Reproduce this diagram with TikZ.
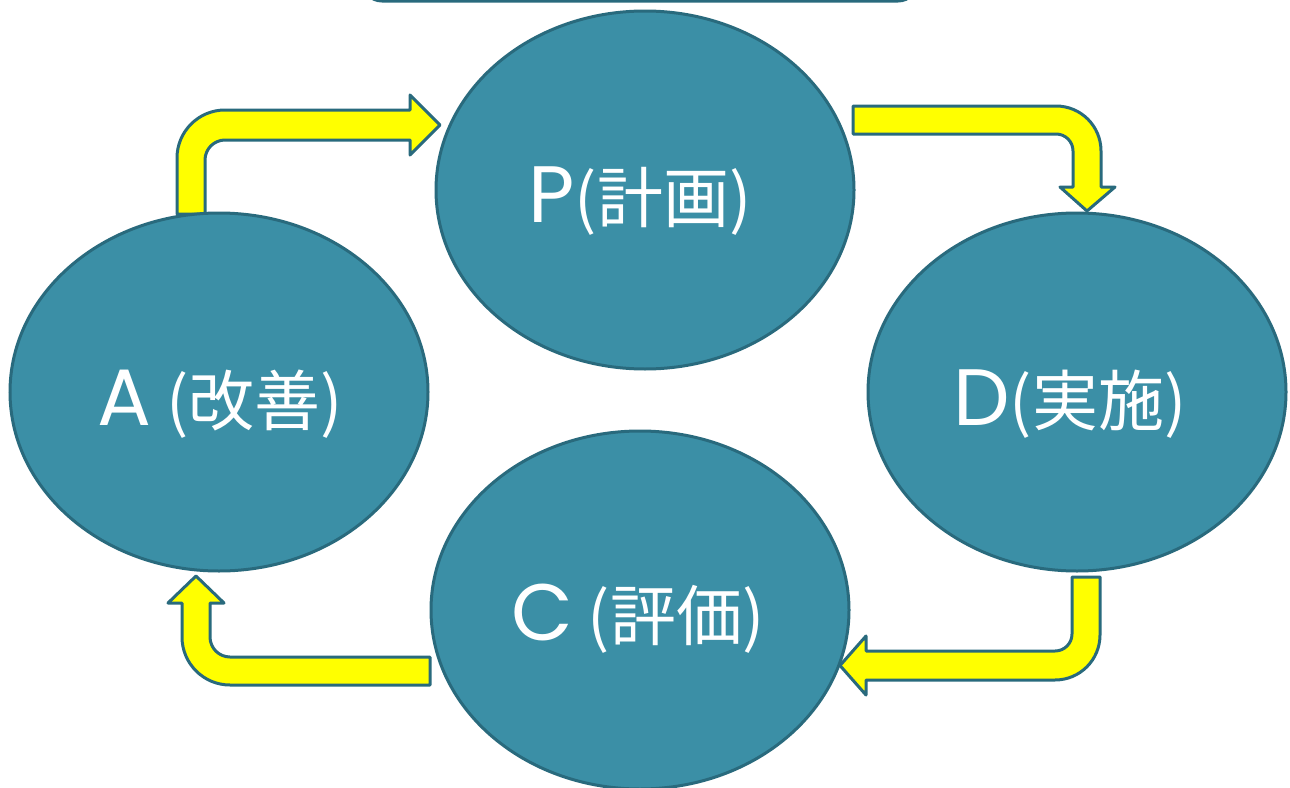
\documentclass[tikz,border=0pt]{standalone}
\usepackage{fontspec}
\newfontfamily\jpfont{Noto Sans CJK JP}
\newfontfamily\latfont{Poppins}
\usetikzlibrary{shapes.geometric}
\definecolor{tealfill}{RGB}{59,143,166}
\definecolor{tealline}{RGB}{41,106,125}
\definecolor{arrowyellow}{RGB}{255,255,0}
\newcommand{\bigL}[1]{{\latfont\fontsize{80pt}{84pt}\selectfont #1}}
\tikzset{
  phase/.style={ellipse, draw=tealline, line width=3pt, fill=tealfill, inner sep=0pt,
    minimum width=418pt, minimum height=358pt},
  phasetext/.style={text=white, inner sep=0pt, anchor=base,
    font=\jpfont\fontsize{66pt}{70pt}\selectfont},
  blockarrow/.style={draw=tealline, line width=3pt, fill=arrowyellow, line join=round},
}
\begin{document}
\begin{tikzpicture}[x=1pt,y=-1pt]
\useasboundingbox (0,0) rectangle (1290,787);
\fill[white] (0,0) rectangle (1290,787);
% partial box at top
\draw[draw=tealline, line width=3pt, fill=tealfill, rounded corners=20pt] (362,-60) rectangle (918,1);
% arrows
\draw[blockarrow] (177,214) -- (177,158) .. controls (177,131.5) and (198.5,110) .. (225,110)
  -- (410,110) -- (410,95) -- (440,125) -- (410,155) -- (410,140) -- (225,140)
  .. controls (214,140) and (205,149) .. (205,160) -- (205,214) -- cycle;
\draw[blockarrow] (853,106) -- (1056,106) .. controls (1080.9,106) and (1101,126.1) .. (1101,151)
  -- (1101,187) -- (1115,187) -- (1087,211) -- (1060,187) -- (1073,187) -- (1073,151)
  .. controls (1073,141.6) and (1065.4,134) .. (1056,134) -- (853,134) -- cycle;
\draw[blockarrow] (1072,577) -- (1100,577) -- (1100,635) .. controls (1100,659.9) and (1079.9,680) .. (1055,680)
  -- (866,680) -- (866,695) -- (840,665.5) -- (866,636) -- (866,651) -- (1055,651)
  .. controls (1064.4,651) and (1072,643.4) .. (1072,634) -- cycle;
\draw[blockarrow] (430,657) -- (430,685) -- (230,685) .. controls (203.5,685) and (182,663.5) .. (182,637)
  -- (182,603) -- (168,603) -- (196,576) -- (224,603) -- (210,603) -- (210,637)
  .. controls (210,648) and (219,657) .. (230,657) -- cycle;
% ellipses
\node[phase] (P) at (645,190) {};
\node[phase] (D) at (1077,392) {};
\node[phase] (C) at (640,610) {};
\node[phase] (A) at (219,392) {};
\node[phasetext] (Pt) at (640,222) {\bigL{P}(計画)};
\node[phasetext] (Dt) at (1070,425) {\bigL{D}(実施)};
\node[phasetext] (Ct) at (638,640) {\bigL{C} (評価)};
\node[phasetext] (At) at (220,425) {\bigL{A} (改善)};
\end{tikzpicture}
\end{document}
